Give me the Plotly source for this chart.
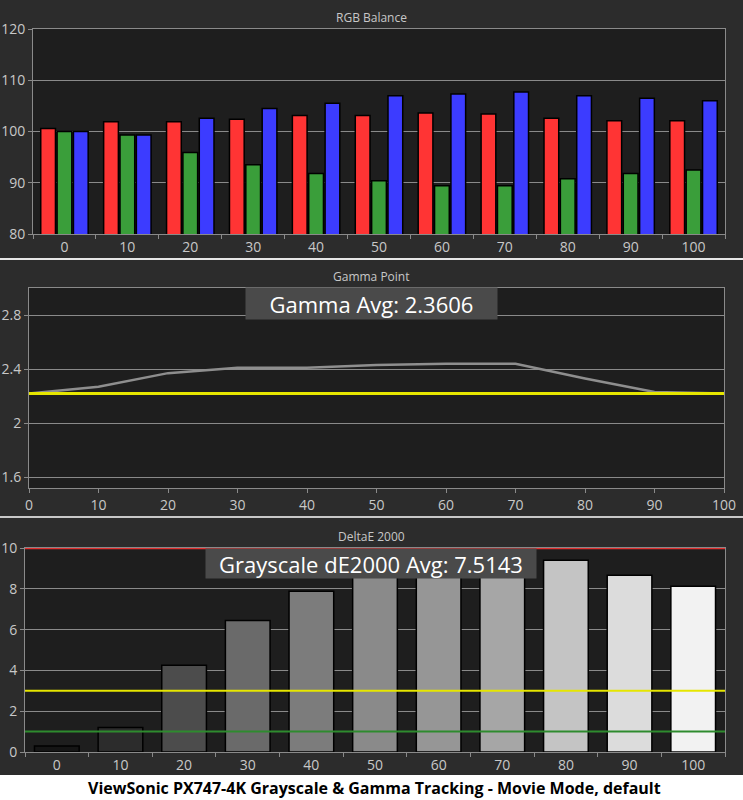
import plotly.graph_objects as go

W, H = 743, 800

# ---------------- data ----------------
levels = ["0", "10", "20", "30", "40", "50", "60", "70", "80", "90", "100"]
red_vals = [100.6, 101.9, 101.9, 102.4, 103.1, 103.1, 103.6, 103.4, 102.6, 102.1, 102.1]
green_vals = [100.0, 99.3, 95.9, 93.5, 91.8, 90.4, 89.4, 89.4, 90.8, 91.8, 92.5]
blue_vals = [100.0, 99.3, 102.6, 104.5, 105.5, 107.0, 107.3, 107.7, 107.0, 106.5, 106.0]

gamma_x = [0, 10, 20, 30, 40, 50, 60, 70, 80, 90, 100]
gamma_vals = [2.22, 2.27, 2.37, 2.41, 2.41, 2.43, 2.44, 2.44, 2.33, 2.23, 2.22]
gamma_target = [2.22] * len(gamma_x)
gamma_avg_text = "Gamma Avg: 2.3606"

de_vals = [0.3, 1.2, 4.25, 6.45, 7.88, 9.0, 9.4, 9.5, 9.4, 8.67, 8.13]
de_avg_text = "Grayscale dE2000 Avg: 7.5143"
de_red_limit = 10
de_yellow_limit = 3
de_green_limit = 1

title_text = "ViewSonic PX747-4K Grayscale & Gamma Tracking - Movie Mode, default"

# ---------------- styles ----------------
bar_grays = ["#151515", "#2c2c2c", "#4c4c4c", "#6a6a6a", "#7c7c7c", "#8a8a8a",
             "#969696", "#a6a6a6", "#c4c4c4", "#dcdcdc", "#f2f2f2"]
PAPER = "#2c2c2c"
PLOT = "#1e1e1e"
GRID = "#8a8a8a"
TXT = "#c8c8c8"
FONT = "Open Sans"


def px(x):
    return x / W


def py(y):
    return 1 - y / H


fig = go.Figure()

# top: RGB balance
for vals, col in [(red_vals, "#ff3434"), (green_vals, "#3a9e3a"), (blue_vals, "#3c3cff")]:
    fig.add_trace(go.Bar(x=levels, y=vals, marker=dict(color=col, line=dict(color="#000", width=1.5)),
                         xaxis="x", yaxis="y", showlegend=False, offsetgroup=col))

# middle: gamma
fig.add_trace(go.Scatter(x=gamma_x, y=gamma_vals, mode="lines", line=dict(color="#8e8e8e", width=2.5),
                         xaxis="x2", yaxis="y2", showlegend=False))
fig.add_trace(go.Scatter(x=gamma_x, y=gamma_target, mode="lines", line=dict(color="#e6e600", width=3),
                         xaxis="x2", yaxis="y2", showlegend=False))

# bottom: deltaE
fig.add_trace(go.Bar(x=levels, y=de_vals, marker=dict(color=bar_grays, line=dict(color="#000", width=1.5)),
                     xaxis="x3", yaxis="y3", showlegend=False))

axis_common = dict(showline=True, linecolor=GRID, linewidth=1, mirror=True,
                   tickfont=dict(family=FONT, size=14, color=TXT), tickcolor=GRID,
                   ticks="outside", ticklen=4, zeroline=False, automargin=False)

fig.update_layout(
    width=W, height=H, margin=dict(l=0, r=0, t=0, b=0, pad=0, autoexpand=False),
    paper_bgcolor=PAPER, plot_bgcolor=PLOT, showlegend=False,
    barmode="group", bargap=0.22, bargroupgap=0.1,
    xaxis=dict(domain=[px(33), px(725)], anchor="y", type="category", tickson="boundaries",
               showgrid=False, **axis_common),
    yaxis=dict(domain=[py(234), py(29)], anchor="x", range=[80, 120], tickvals=[80, 90, 100, 110, 120],
               showgrid=True, gridcolor=GRID, gridwidth=1, **axis_common),
    xaxis2=dict(domain=[px(29), px(724)], anchor="y2", range=[0, 100], tickvals=gamma_x,
                showgrid=False, **axis_common),
    yaxis2=dict(domain=[py(488), py(288)], anchor="x2", range=[1.52, 3.0], tickvals=[1.6, 2, 2.4, 2.8],
                ticktext=["1.6", "2", "2.4", "2.8"], showgrid=True, gridcolor=GRID, **axis_common),
    xaxis3=dict(domain=[px(25), px(725)], anchor="y3", type="category", tickson="boundaries",
                showgrid=False, **axis_common),
    yaxis3=dict(domain=[py(752), py(548)], anchor="x3", range=[0, 10], tickvals=[0, 2, 4, 6, 8, 10],
                showgrid=True, gridcolor=GRID, **axis_common),
)

shapes = [
    dict(type="line", xref="paper", yref="paper", x0=0, x1=1, y0=py(259), y1=py(259),
         line=dict(color="#e6e6e6", width=2)),
    dict(type="line", xref="paper", yref="paper", x0=0, x1=1, y0=py(517), y1=py(517),
         line=dict(color="#c8c8c8", width=2)),
    dict(type="rect", xref="paper", yref="paper", x0=0, x1=1, y0=0, y1=py(775),
         fillcolor="#ffffff", line=dict(width=0), layer="below"),
    dict(type="line", xref="x3 domain", yref="y3", x0=0, x1=1, y0=de_green_limit, y1=de_green_limit,
         line=dict(color="#2e8b2e", width=2)),
    dict(type="line", xref="x3 domain", yref="y3", x0=0, x1=1, y0=de_yellow_limit, y1=de_yellow_limit,
         line=dict(color="#e6e600", width=2)),
    dict(type="line", xref="x3 domain", yref="y3", x0=0, x1=1, y0=de_red_limit, y1=de_red_limit,
         line=dict(color="#e03030", width=2.5)),
]
fig.update_layout(shapes=shapes)


def note(text, x, y, size, color, **kw):
    return dict(text=text, x=px(x), y=py(y), xref="paper", yref="paper", showarrow=False,
                xanchor="center", yanchor="middle", font=dict(family=FONT, size=size, color=color), **kw)


ann = [
    note("RGB Balance", 372, 18, 12, TXT),
    note("Gamma Point", 372, 277, 12, TXT),
    note("DeltaE 2000", 372, 536, 12, TXT),
    note(gamma_avg_text, 371.5, 303.5, 22, "#ffffff", width=251, height=31, bgcolor="#4a4a4a", borderpad=0),
    note(de_avg_text, 371, 563.5, 22, "#ffffff", width=330, height=29, bgcolor="#4a4a4a", borderpad=0),
    note("<b>" + title_text + "</b>", 374, 788, 16, "#000000"),
]
fig.update_layout(annotations=ann)

fig.write_html("out.html",
               post_script="document.body.style.margin='0';document.body.style.overflow='hidden';")
